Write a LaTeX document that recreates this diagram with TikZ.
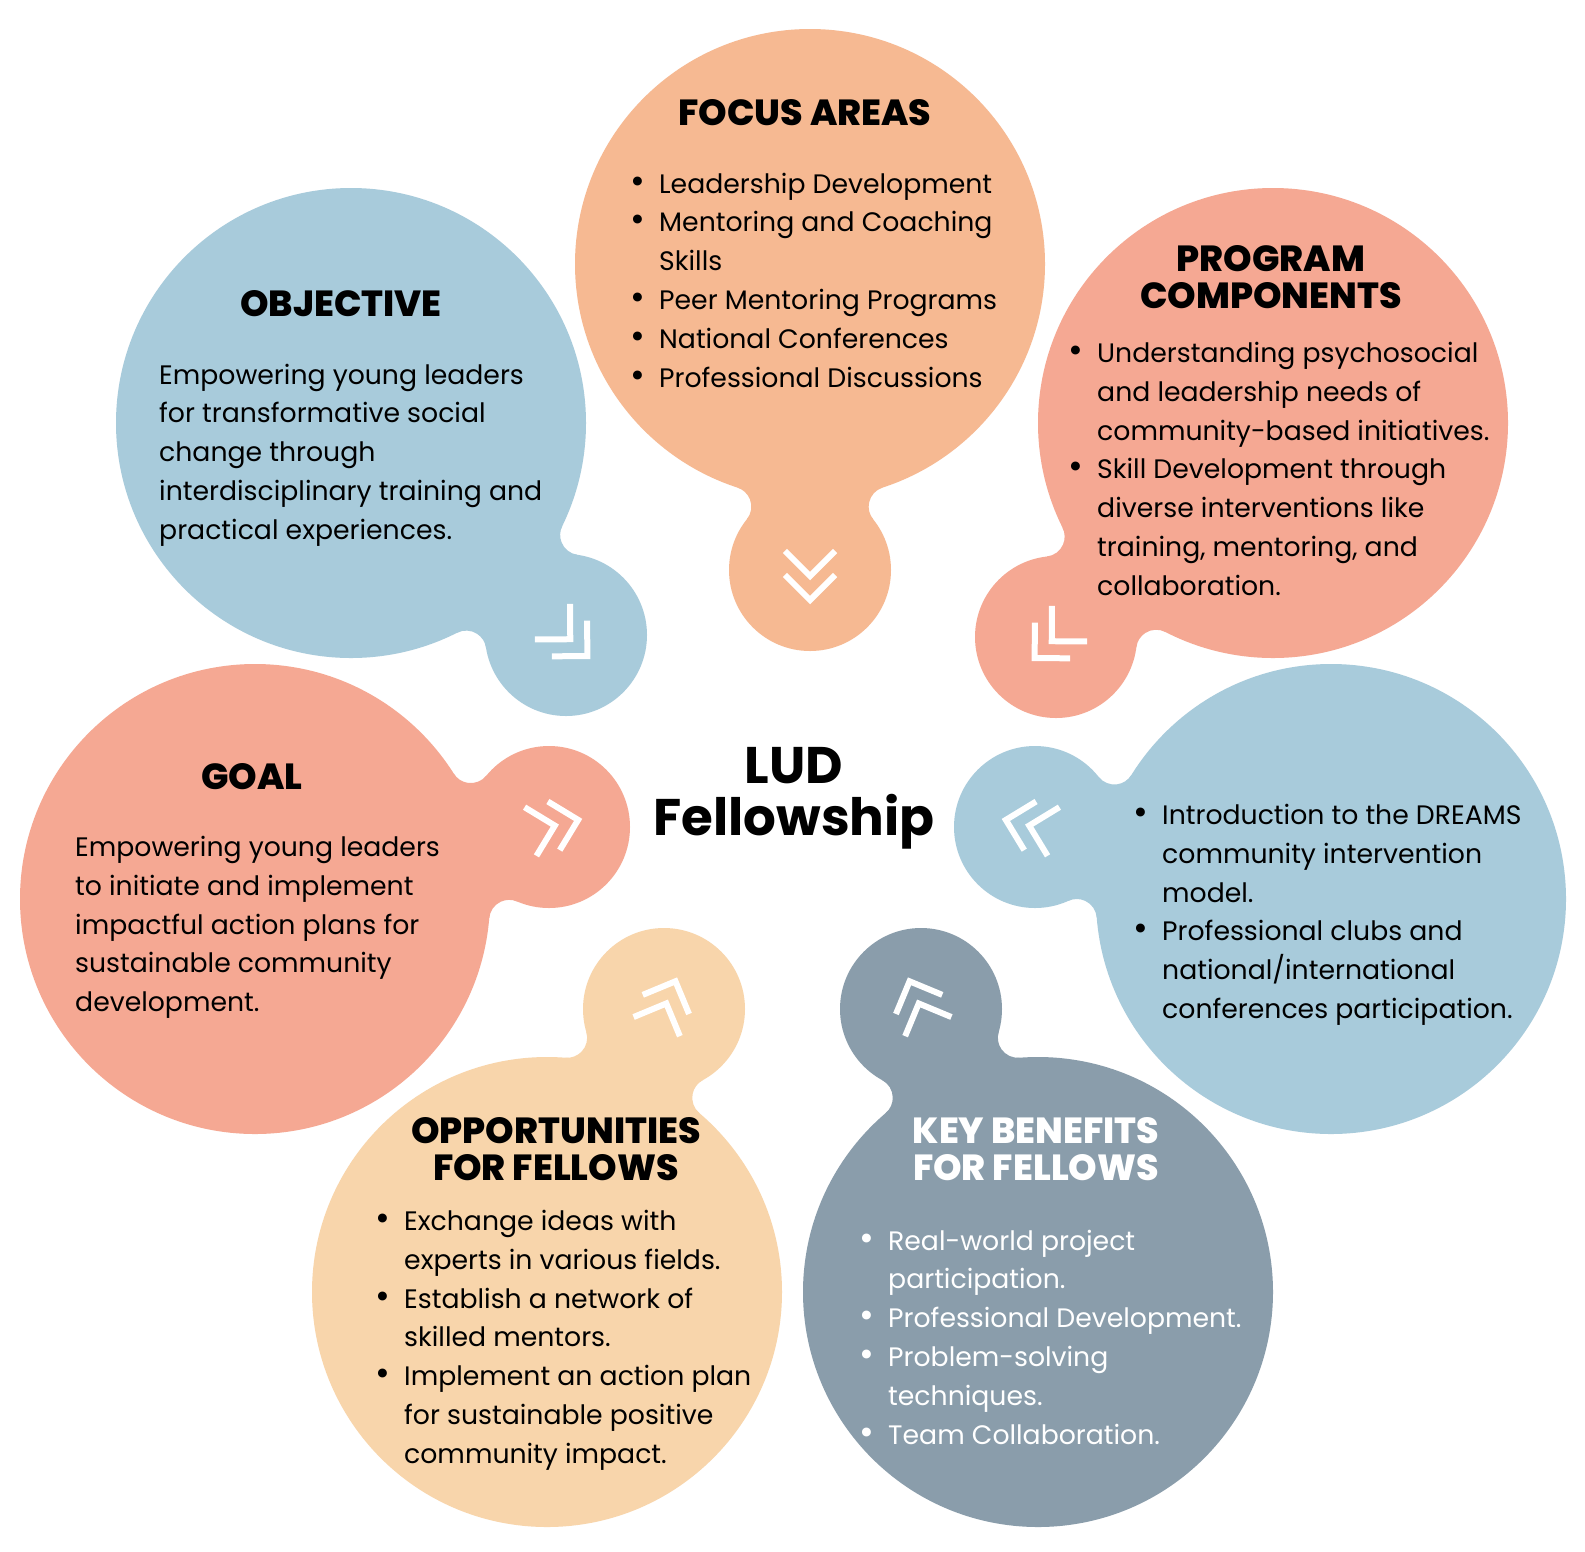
\documentclass[tikz,border=0pt]{standalone}
\usepackage{fontspec}
\setmainfont{Poppins}
\IfFontExistsTF{Poppins ExtraBold}
  {\newfontfamily\hfont{Poppins ExtraBold}\newcommand\headsz{36.3}}
  {\newfontfamily\hfont{Poppins}[UprightFont=*-Bold]\newcommand\headsz{37.3}}
\usetikzlibrary{calc,intersections}
\definecolor{cblue}{HTML}{A8CBDB}
\definecolor{cpeach}{HTML}{F6B992}
\definecolor{csalmon}{HTML}{F5A893}
\definecolor{ccream}{HTML}{F8D5AB}
\definecolor{cslate}{HTML}{8A9DAB}
\tikzset{
  chev/.style={draw=white, line width=6pt, line cap=butt, line join=miter},
  headnode/.style={anchor=base, inner sep=0pt},
  bodynode/.style={anchor=base west, inner sep=0pt},
}
\newcommand\bul{\leavevmode\llap{\makebox[0pt]{\fontsize{36}{0}\selectfont\textbullet}\hspace{21pt}}}
\newcommand\bodytext[1]{\parbox[t]{600pt}{\raggedright\fontsize{26.7}{38.8}\selectfont #1}}
\newcommand\headtext[1]{\parbox[t]{500pt}{\centering\fontsize{\headsz}{37}\selectfont\hfont #1}}
\newcommand\drawbubble[4]{%
  \coordinate (#1B) at #2;
  \coordinate (#1S) at #3;
  \path[name path=#1ra] (#1B) circle[radius=255];
  \path[name path=#1rb] (#1S) circle[radius=101];
  \path[name intersections={of=#1ra and #1rb, name=#1P}];
  \coordinate (#1Ta) at ($(#1B)!0.921569!(#1P-1)$);
  \coordinate (#1Ua) at ($(#1S)!0.801980!(#1P-1)$);
  \coordinate (#1Tb) at ($(#1B)!0.921569!(#1P-2)$);
  \coordinate (#1Ub) at ($(#1S)!0.801980!(#1P-2)$);
  \fill[#4] let \p1=($(#1Ta)-(#1P-1)$), \p2=($(#1Ua)-(#1P-1)$),
      \p3=($(#1Ub)-(#1P-2)$), \p4=($(#1Tb)-(#1P-2)$),
      \n1={atan2(\y1,\x1)}, \n2={atan2(\y2,\x2)},
      \n3={atan2(\y3,\x3)}, \n4={atan2(\y4,\x4)},
      \n5={mod(\n2-\n1+540,360)-180}, \n6={mod(\n4-\n3+540,360)-180} in
    (#1Ta) arc[start angle=\n1, delta angle=\n5, radius=20pt] -- (#1S)
    -- (#1Ub) arc[start angle=\n3, delta angle=\n6, radius=20pt] -- (#1B) -- cycle;
  \fill[#4] (#1B) circle[radius=235];
  \fill[#4] (#1S) circle[radius=81];
  \draw[chev] let \p1=($(#1S)-(#1B)$), \n1={atan2(\y1,\x1)} in
    ($(#1S)+(\n1:6pt)+(\n1+135:35.4pt)$) -- ($(#1S)+(\n1:6pt)$) -- ($(#1S)+(\n1:6pt)+(\n1-135:35.4pt)$)
    ($(#1S)+(\n1:30pt)+(\n1+135:35.4pt)$) -- ($(#1S)+(\n1:30pt)$) -- ($(#1S)+(\n1:30pt)+(\n1-135:35.4pt)$);
}
\begin{document}
\begin{tikzpicture}[x=1pt,y=-1pt]
\useasboundingbox (0,0) rectangle (1585,1551);
\fill[white] (0,0) rectangle (1585,1551);

\drawbubble{obj}{(351,423)}{(566,635)}{cblue}
\drawbubble{foc}{(810,264)}{(810,570)}{cpeach}
\drawbubble{prg}{(1273,423)}{(1056,637)}{csalmon}
\drawbubble{goal}{(255,899)}{(549,827)}{csalmon}
\drawbubble{rb}{(1331,899)}{(1035,827)}{cblue}
\drawbubble{opp}{(547,1292)}{(664,1009)}{ccream}
\drawbubble{key}{(1038,1292)}{(921,1009)}{cslate}

% Objective
\node[headnode] (objh) at (341,316.5) {\headtext{OBJECTIVE}};
\node[bodynode] (objt) at (159,384) {\bodytext{Empowering young leaders\\
for transformative social\\
change through\\
interdisciplinary training and\\
practical experiences.}};

% Focus areas
\node[headnode] (foch) at (805,125) {\headtext{FOCUS AREAS}};
\node[bodynode] (foct) at (659,193) {\bodytext{\bul Leadership Development\\
\bul Mentoring and Coaching\\
Skills\\
\bul Peer Mentoring Programs\\
\bul National Conferences\\
\bul Professional Discussions}};

% Program components
\node[headnode] (prgh) at (1271,271.5) {\headtext{PROGRAM\\COMPONENTS}};
\node[bodynode] (prgt) at (1097,362.5) {\bodytext{\bul Understanding psychosocial\\
and leadership needs of\\
community-based initiatives.\\
\bul Skill Development through\\
diverse interventions like\\
training, mentoring, and\\
collaboration.}};

% Goal
\node[headnode] (goalh) at (252,789.5) {\headtext{GOAL}};
\node[bodynode] (goalt) at (75,856.5) {\bodytext{Empowering young leaders\\
to initiate and implement\\
impactful action plans for\\
sustainable community\\
development.}};

% Right blue
\node[bodynode] (rbt) at (1162,824.5) {\bodytext{\bul Introduction to the DREAMS\\
community intervention\\
model.\\
\bul Professional clubs and\\
national/international\\
conferences participation.}};

% Opportunities
\node[headnode] (opph) at (556,1143.5) {\headtext{OPPORTUNITIES\\FOR FELLOWS}};
\node[bodynode] (oppt) at (404,1230.5) {\bodytext{\bul Exchange ideas with\\
experts in various fields.\\
\bul Establish a network of\\
skilled mentors.\\
\bul Implement an action plan\\
for sustainable positive\\
community impact.}};

% Key benefits
\node[headnode, text=white] (keyh) at (1036,1143) {\headtext{KEY BENEFITS\\FOR FELLOWS}};
\node[bodynode, text=white] (keyt) at (888,1250) {\bodytext{\bul Real-world project\\
participation.\\
\bul Professional Development.\\
\bul Problem-solving\\
techniques.\\
\bul Team Collaboration.}};

% Center
\node[headnode] (lud) at (794,783) {\parbox[t]{400pt}{\centering\fontsize{51.5}{52}\selectfont\bfseries LUD\\Fellowship}};
\end{tikzpicture}
\end{document}
